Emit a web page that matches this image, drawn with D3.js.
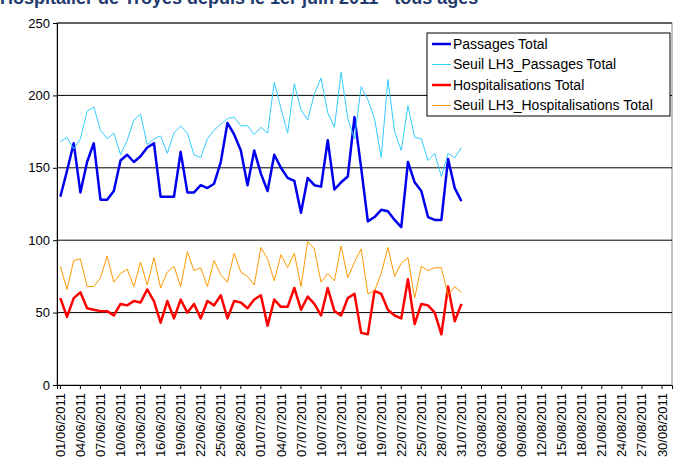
<!DOCTYPE html>
<html><head><meta charset="utf-8">
<script src="https://cdn.jsdelivr.net/npm/d3@7"></script>
<style>body{margin:0;background:#fff;font-family:"Liberation Sans",Arial,sans-serif}</style>
</head><body><span></span>
<script>
let width = 685, height = 476;

let passages = [130,148,167,133,154,167,128,128,134,155,159,154,158,164,167,130,130,130,161,133,133,138,136,139,154,181,173,162,138,162,146,134,159,150,143,141,119,143,138,137,169,135,140,144,185,150,113,116,121,120,114,109,154,140,134,116,114,114,156,136,127];
let seuilPassages = [168,171,163,170,189,192,176,170,174,159,169,183,187,166,170,172,160,174,179,174,159,157,170,176,180,184,185,179,179,173,178,174,209,191,174,208,190,183,201,212,188,178,216,184,170,206,197,184,157,211,175,162,193,171,170,155,160,144,160,157,164];
let hospit = [60,47,60,64,53,52,51,51,48,56,55,58,57,66,58,43,58,46,59,50,56,46,58,55,62,46,58,57,53,59,62,41,59,54,54,67,52,61,56,48,67,51,48,60,63,36,35,65,63,52,48,46,73,42,56,55,50,35,68,44,56];
let seuilHospit = [82,66,86,87,68,68,74,89,71,77,80,68,85,69,88,67,78,82,68,92,79,81,68,86,76,71,91,78,75,69,95,87,72,90,81,91,68,99,94,71,77,72,96,74,85,94,63,65,77,95,75,84,88,60,82,79,81,81,62,68,64];
let yTicks = [0,50,100,150,200,250];
let series = [
  {name: "Passages Total", values: passages, color: "#0000ee", w: 2.5},
  {name: "Seuil LH3_Passages Total", values: seuilPassages, color: "#33ccff", w: 1},
  {name: "Hospitalisations Total", values: hospit, color: "#ff0000", w: 2.5},
  {name: "Seuil LH3_Hospitalisations Total", values: seuilHospit, color: "#ff9900", w: 1}
];

// 92 jours: 01/06 -> 31/08
let start = new Date(2011, 5, 1);
let days = d3.range(92).map(i => d3.timeDay.offset(start, i));
let fmt = d3.timeFormat("%d/%m/%Y");

let mLeft = 57, mRight = 672, mTop = 23, mBottom = 385;
let svg = d3.select("span").append("svg").attr("width", width).attr("height", height);

svg.append("text").attr("x", 0).attr("y", 4)
  .style("font-weight", "bold").style("font-size", "18px").style("fill", "#1f3a6e")
  .text("Hospitalier de Troyes depuis le 1er juin 2011 - tous âges");

let x = d3.scaleBand().domain(d3.range(92)).range([mLeft, mRight]);
let y = d3.scaleLinear().domain([0, 250]).range([mBottom, mTop]);

svg.append("rect").attr("x", mLeft).attr("y", mTop).attr("width", mRight - mLeft).attr("height", mBottom - mTop)
  .attr("fill", "none").attr("stroke", "#888");

svg.selectAll(".grid").data(yTicks.slice(1)).enter().append("line")
  .attr("x1", mLeft).attr("x2", mRight).attr("y1", d => y(d)).attr("y2", d => y(d))
  .attr("stroke", "#000").attr("stroke-width", 1);

let yAxis = svg.append("g").attr("transform", `translate(${mLeft},0)`)
  .call(d3.axisLeft(y).tickValues(yTicks).tickSize(4).tickPadding(3));
yAxis.selectAll("text").style("font-size", "13px").style("font-family", "Liberation Sans, Arial");
yAxis.select(".domain").attr("stroke", "#000");

let xAxis = svg.append("g").attr("transform", `translate(0,${mBottom})`)
  .call(d3.axisBottom(x).tickValues(d3.range(0, 92, 3)).tickFormat(i => fmt(days[i])).tickSize(4));
xAxis.select(".domain").attr("stroke", "#000");
xAxis.selectAll("text").attr("transform", "rotate(-90)").attr("text-anchor", "end")
  .attr("x", -8).attr("y", 0).attr("dy", "0.35em")
  .style("font-size", "13px").style("font-family", "Liberation Sans, Arial");

let line = d3.line().x((d, i) => x(i) + x.bandwidth() / 2).y(d => y(d));
series.forEach(s => {
  svg.append("path").attr("d", line(s.values)).attr("fill", "none")
    .attr("stroke", s.color).attr("stroke-width", s.w).attr("stroke-linejoin", "round");
});

let lg = svg.append("g").attr("transform", "translate(427,33)");
lg.append("rect").attr("width", 243).attr("height", 83).attr("fill", "#fff").attr("stroke", "#000");
series.forEach((s, i) => {
  let yy = 11 + i * 20.5;
  lg.append("line").attr("x1", 5).attr("x2", 24).attr("y1", yy).attr("y2", yy)
    .attr("stroke", s.color).attr("stroke-width", s.w);
  lg.append("text").attr("x", 26).attr("y", yy).attr("dy", "0.35em")
    .style("font-size", "14px").text(s.name);
});
</script></body></html>
